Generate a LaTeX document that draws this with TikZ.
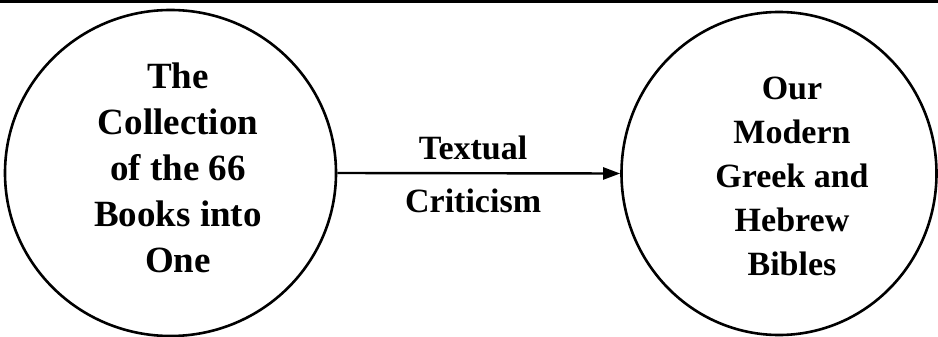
\documentclass[tikz,border=0pt]{standalone}
\usepackage{fontspec}
\setmainfont{Liberation Serif}
\usetikzlibrary{shapes.geometric,arrows.meta}
\begin{document}
\begin{tikzpicture}[x=1pt,y=-1pt,
  bubble/.style={ellipse,draw=black,line width=2.6pt,inner sep=0pt},
  bubbletext/.style={align=center,inner sep=0pt,font=\bfseries\fontsize{37}{46}\selectfont},
  edgetext/.style={inner sep=0pt,font=\bfseries\fontsize{34}{40}\selectfont},
  conn/.style={line width=2.4pt,-{Triangle[length=17pt,width=12pt]}}]
\useasboundingbox (0,0) rectangle (938,337);
\coordinate (tl) at (0,1.5);
\coordinate (tr) at (938,1.5);
\draw[line width=2.2pt] (tl) -- (tr);
\node[bubble,minimum width=331pt,minimum height=326pt] (L) at (170.5,173) {};
\node[bubble,minimum width=315pt,minimum height=323pt] (R) at (779,173.5) {};
\node[bubbletext,anchor=north] (Ltext) at (178,63) {The\\Collection\\of the 66\\Books into\\One};
\node[bubbletext,anchor=north,font=\bfseries\fontsize{34}{44}\selectfont] (Rtext) at (792,77) {Our\\Modern\\Greek and\\Hebrew\\Bibles};
\draw[conn] (L.east) -- node[pos=0.48,above=12pt,edgetext] (t1) {Textual} node[pos=0.48,below=14pt,edgetext] (t2) {Criticism} (R.west);
\end{tikzpicture}
\end{document}
